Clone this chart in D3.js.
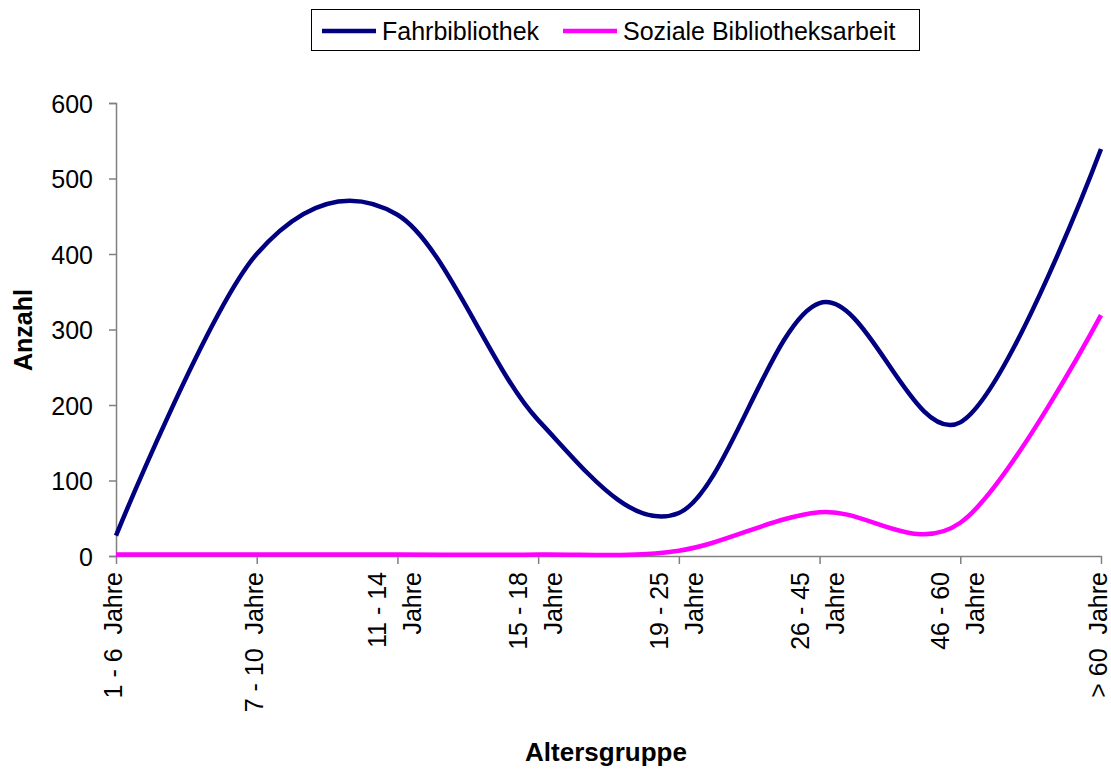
<!DOCTYPE html>
<html>
<head>
<meta charset="utf-8">
<script src="https://cdn.jsdelivr.net/npm/d3@7"></script>
<style>
  body { margin: 0; background: #fff; }
  text { font-family: "Liberation Sans", Arial, sans-serif; white-space: pre; }
</style>
</head>
<body>
<script>
// category labels ("\n" marks a line break in the rotated label)
var categories = ["1 - 6  Jahre", "7 - 10  Jahre", "11 - 14\nJahre", "15 - 18\nJahre",
                  "19 - 25\nJahre", "26 - 45\nJahre", "46 - 60\nJahre", "> 60  Jahre"];
var fahrbibliothek = [27, 400, 452, 180, 57, 335, 177, 539];
var sozialeArbeit = [2, 2, 2, 2, 7, 58, 44, 319];
var yTicks = [0, 100, 200, 300, 400, 500, 600];
var seriesNames = ["Fahrbibliothek", "Soziale Bibliotheksarbeit"];
var seriesColors = ["#000080", "#ff00ff"];

var width = 1111, height = 769;
var svg = d3.select("body").append("svg")
    .attr("width", width)
    .attr("height", height);

var x = d3.scalePoint()
    .domain(d3.range(categories.length))
    .range([116, 1101]);

var y = d3.scaleLinear()
    .domain([0, 600])
    .range([556, 103]);

var axisColor = "#808080";

// y axis
var yAxis = svg.append("g")
    .attr("transform", "translate(116,0)")
    .call(d3.axisLeft(y).tickValues(yTicks).tickSize(7).tickPadding(16).tickFormat(d3.format("d")));
yAxis.select(".domain").attr("stroke", axisColor).attr("stroke-width", 1.5);
yAxis.selectAll(".tick line").attr("stroke", axisColor).attr("stroke-width", 1.5);
yAxis.selectAll(".tick text")
    .attr("fill", "#000")
    .style("font-size", "25px")
    .attr("dy", "0.36em");

// x axis
var xAxis = svg.append("g")
    .attr("transform", "translate(0,556)")
    .call(d3.axisBottom(x).tickSize(8).tickSizeOuter(0).tickFormat(""));
xAxis.select(".domain").attr("stroke", axisColor).attr("stroke-width", 1.5);
xAxis.selectAll(".tick line").attr("stroke", axisColor).attr("stroke-width", 1.5);

// rotated category labels
var labels = svg.append("g").selectAll("text")
    .data(categories)
    .join("text")
    .attr("transform", (d, i) => "translate(" + x(i) + ",572) rotate(-90)")
    .attr("text-anchor", "end")
    .style("font-size", "25px")
    .attr("fill", "#000");

labels.each(function(d) {
    var lines = d.split("\n");
    var t = d3.select(this);
    var offsets = lines.length > 1 ? [-11, 24] : [6];
    lines.forEach(function(line, k) {
        t.append("tspan")
            .attr("x", 0)
            .attr("y", offsets[k])
            .text(line);
    });
});

// lines
var line = d3.line()
    .x((d, i) => x(i))
    .y(d => y(d))
    .curve(d3.curveCardinal.tension(0));

[fahrbibliothek, sozialeArbeit].forEach(function(series, s) {
    svg.append("path")
        .datum(series)
        .attr("fill", "none")
        .attr("stroke", seriesColors[s])
        .attr("stroke-width", 4.5)
        .attr("stroke-linejoin", "round")
        .attr("d", line);
});

// axis titles
svg.append("text")
    .attr("transform", "translate(32,330) rotate(-90)")
    .attr("text-anchor", "middle")
    .style("font-size", "25px")
    .style("font-weight", "bold")
    .text("Anzahl");

svg.append("text")
    .attr("x", 606)
    .attr("y", 761)
    .attr("text-anchor", "middle")
    .style("font-size", "26px")
    .style("font-weight", "bold")
    .text("Altersgruppe");

// legend
var legend = svg.append("g");
legend.append("rect")
    .attr("x", 311.5).attr("y", 9.5)
    .attr("width", 608).attr("height", 41)
    .attr("fill", "#fff")
    .attr("stroke", "#000")
    .attr("stroke-width", 1);

var legendX = [322, 563];
seriesNames.forEach(function(name, s) {
    legend.append("line")
        .attr("x1", legendX[s]).attr("x2", legendX[s] + 54)
        .attr("y1", 31).attr("y2", 31)
        .attr("stroke", seriesColors[s])
        .attr("stroke-width", 4.5);
    legend.append("text")
        .attr("x", legendX[s] + 60)
        .attr("y", 40)
        .style("font-size", "25px")
        .text(name);
});
</script>
</body>
</html>
